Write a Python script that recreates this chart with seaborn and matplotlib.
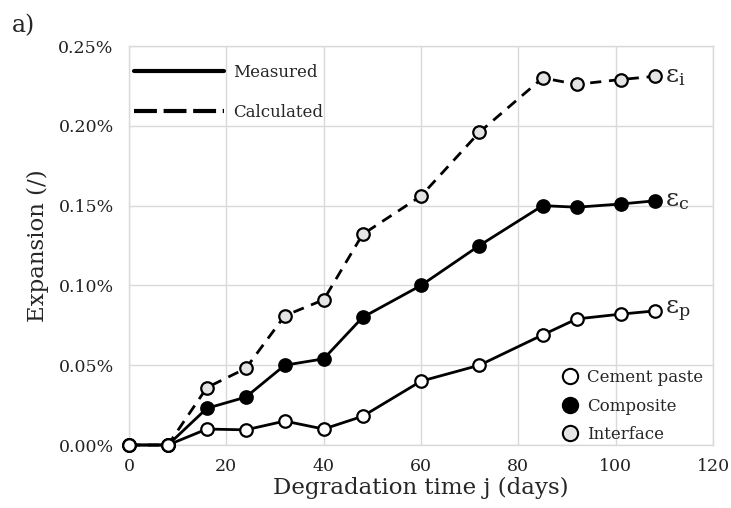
import matplotlib
matplotlib.use("Agg")
import matplotlib.pyplot as plt
from matplotlib.lines import Line2D
import seaborn as sns
import pandas as pd

days = [0, 8, 16, 24, 32, 40, 48, 60, 72, 85, 92, 101, 108]
cement_paste = [0.0, 0.0, 0.010, 0.0095, 0.015, 0.010, 0.018, 0.040, 0.050, 0.069, 0.079, 0.082, 0.084]
composite = [0.0, 0.0, 0.023, 0.030, 0.050, 0.054, 0.080, 0.100, 0.125, 0.150, 0.149, 0.151, 0.153]
interface = [0.0, 0.0, 0.036, 0.048, 0.081, 0.091, 0.132, 0.156, 0.196, 0.230, 0.226, 0.229, 0.231]
x_ticks = [0, 20, 40, 60, 80, 100, 120]
y_ticks = [0.0, 0.05, 0.10, 0.15, 0.20, 0.25]

sns.set_theme(style="white")
plt.rcParams['font.family'] = ['DejaVu Serif']
plt.rcParams['mathtext.fontset'] = 'dejavuserif'

df = pd.DataFrame({"days": days, "paste": cement_paste, "comp": composite, "inter": interface})

fig = plt.figure(figsize=(7.31, 5.08), dpi=100)
ax = fig.add_axes([0.1765, 0.124, 0.7989, 0.7854])

ms = 9
lw = 2.0
sns.lineplot(data=df, x="days", y="inter", ax=ax, color="black", lw=lw,
             linestyle=(0, (4, 2.8)), marker="o", markersize=ms, markerfacecolor="#e4e4e4",
             markeredgecolor="black", markeredgewidth=1.6, zorder=3)
sns.lineplot(data=df, x="days", y="comp", ax=ax, color="black", lw=lw,
             marker="o", markersize=ms, markerfacecolor="black",
             markeredgecolor="black", markeredgewidth=1.6, zorder=4)
sns.lineplot(data=df, x="days", y="paste", ax=ax, color="black", lw=lw,
             marker="o", markersize=ms, markerfacecolor="white",
             markeredgecolor="black", markeredgewidth=1.6, zorder=5)

ax.set_xlim(0, 120)
ax.set_ylim(0, 0.25)
ax.set_xticks(x_ticks)
ax.set_yticks(y_ticks)
ax.set_xticklabels([str(t) for t in x_ticks], fontsize=12.5)
ax.set_yticklabels([f"{t:.2f}%" for t in y_ticks], fontsize=12.5)
ax.tick_params(axis='y', length=0, pad=11, colors="#222222")
ax.tick_params(axis='x', length=0, pad=9, colors="#222222")
ax.grid(True, color="#d9d9d9", lw=1.0)
for s in ax.spines.values():
    s.set_color("#d9d9d9")
    s.set_linewidth(1.0)
ax.set_xlabel("Degradation time j (days)", fontsize=16.5, labelpad=2)
ax.set_ylabel("Expansion (/)", fontsize=16.5, labelpad=7)
for l in ax.lines:
    l.set_clip_on(False)

# series labels
ax.text(110.2, interface[-1], "ε$_{\\mathrm{i}}$", fontsize=18, va="center", ha="left")
ax.text(110.2, composite[-1], "ε$_{\\mathrm{c}}$", fontsize=18, va="center", ha="left")
ax.text(110.2, cement_paste[-1], "ε$_{\\mathrm{p}}$", fontsize=18, va="center", ha="left")

# line-style legend
style_handles = [Line2D([0], [0], color="black", lw=3),
                 Line2D([0], [0], color="black", lw=3, linestyle=(0, (5.5, 1.6)))]
leg1 = ax.legend(style_handles, ["Measured", "Calculated"], loc="upper left",
                 bbox_to_anchor=(-0.018, 0.993), frameon=False, fontsize=12,
                 handlelength=5.4, handletextpad=0.6, labelspacing=1.4)
ax.add_artist(leg1)

marker_handles = [Line2D([0], [0], lw=0, marker="o", markersize=11, markerfacecolor="white", markeredgecolor="black", markeredgewidth=1.5),
                  Line2D([0], [0], lw=0, marker="o", markersize=11, markerfacecolor="black", markeredgecolor="black", markeredgewidth=1.5),
                  Line2D([0], [0], lw=0, marker="o", markersize=11, markerfacecolor="#e4e4e4", markeredgecolor="black", markeredgewidth=1.5)]
ax.legend(marker_handles, ["Cement paste", "Composite", "Interface"], loc="lower right",
          bbox_to_anchor=(1.009, -0.033), frameon=False, fontsize=12,
          handlelength=1.0, handletextpad=0.5, labelspacing=0.7)

fig.text(0.016, 0.937, "a)", fontsize=17)

fig.savefig("out.png", dpi=100)
